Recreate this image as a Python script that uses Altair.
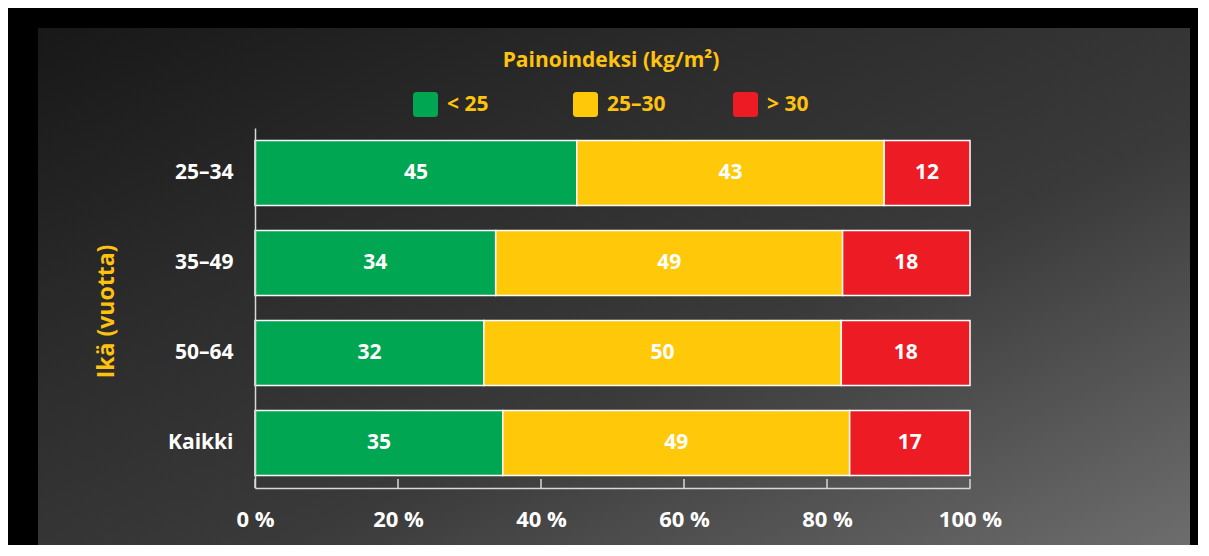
import altair as alt
import pandas as pd

ages = ["25–34", "35–49", "50–64", "Kaikki"]
categories = ["< 25", "25–30", "> 30"]
under25 = [45, 34, 32, 35]
between = [43, 49, 50, 49]
over30 = [12, 18, 18, 17]
colors = ["#00A651", "#FFC90A", "#ED1C24"]
xticks = [0, 0.2, 0.4, 0.6, 0.8, 1.0]

YELLOW = "#FFC20E"
FONT = "Open Sans"

rows = []
for i, a in enumerate(ages):
    for j, (c, vals) in enumerate(zip(categories, [under25, between, over30])):
        rows.append({"age": a, "cat": c, "order": j, "value": vals[i]})
df = pd.DataFrame(rows)

xscale = alt.Scale(domain=[0, 1], nice=False, zero=True)
yscale = alt.Scale(paddingInner=0.2778, paddingOuter=0.1389)

yaxis = alt.Axis(
    title="Ikä (vuotta)", titleColor=YELLOW, titleFont=FONT, titleFontWeight="bold",
    titleFontSize=23, titleAngle=270, titleX=-149, titleY=183, titleAlign="center",
    titleBaseline="middle",
    labelColor="white", labelFont=FONT, labelFontSize=21, labelFontWeight="bold",
    labelPadding=22, ticks=False, domainColor="#d8d8d8", domainWidth=1.5, grid=False,
    zindex=1)
xaxis = alt.Axis(
    title=None, values=xticks, labelExpr="format(datum.value*100, 'd') + ' %'",
    labelColor="white", labelFont=FONT, labelFontSize=22, labelFontWeight="bold",
    labelPadding=21, ticks=False, domainColor="#d8d8d8", domainWidth=1.5, grid=False,
    labelFlush=False, zindex=1)

base = alt.Chart(df).transform_stack(
    stack="value", groupby=["age"], as_=["x0", "x1"], offset="normalize",
    sort=[alt.SortField("order", order="ascending")]
).transform_calculate(xm="(datum.x0 + datum.x1) / 2")

rounded = "M -0.72,-1 L 0.72,-1 Q 1,-1 1,-0.72 L 1,0.72 Q 1,1 0.72,1 L -0.72,1 Q -1,1 -1,0.72 L -1,-0.72 Q -1,-1 -0.72,-1 Z"

bars = base.mark_bar(stroke="white", strokeWidth=1.5, cornerRadius=0).encode(
    y=alt.Y("age:N", sort=ages, scale=yscale, axis=yaxis),
    x=alt.X("x0:Q", scale=xscale, axis=xaxis),
    x2="x1:Q",
    color=alt.Color("cat:N", scale=alt.Scale(domain=categories, range=colors), legend=alt.Legend(
        title="Painoindeksi (kg/m²)", orient="none", legendX=158, legendY=-78,
        direction="horizontal", columns=3, gridAlign="all",
        symbolType=rounded, symbolSize=625, symbolStrokeWidth=0, symbolOpacity=1,
        labelColor=YELLOW, labelFont=FONT, labelFontSize=21, labelFontWeight="bold",
        labelOffset=9, columnPadding=67, labelLimit=200,
        titleColor=YELLOW, titleFont=FONT, titleFontSize=21, titleFontWeight="bold",
        titleAnchor="middle", titlePadding=21, titleLimit=500, padding=0)),
)

labels = base.mark_text(font=FONT, fontWeight="bold", fontSize=21, color="white").encode(
    y=alt.Y("age:N", sort=ages, scale=yscale, axis=yaxis),
    x=alt.X("xm:Q", scale=xscale, axis=xaxis),
    text=alt.Text("value:Q"),
)

tickdf = pd.DataFrame({"t": xticks})
ticks = alt.Chart(tickdf).mark_rule(color="#d8d8d8", strokeWidth=1.5).encode(
    x=alt.X("t:Q", scale=xscale, axis=xaxis),
    y=alt.value(351), y2=alt.value(360),
)

bg = alt.Chart(alt.Data(values=[{"a": 1}])).mark_rect(
    fill=alt.LinearGradient(
        gradient="linear", x1=0, y1=0, x2=1, y2=1,
        stops=[
            alt.GradientStop(color="#181818", offset=0),
            alt.GradientStop(color="#2b2b2b", offset=0.3),
            alt.GradientStop(color="#3a3a3a", offset=0.6),
            alt.GradientStop(color="#6e6e6e", offset=1),
        ],
    )
).encode(x=alt.value(-217), x2=alt.value(935), y=alt.value(-100), y2=alt.value(424))

chart = alt.layer(bg, bars, ticks, labels).properties(
    width=715, height=360,
    padding={"left": 247, "top": 120, "right": 228, "bottom": 57},
    autosize=alt.AutoSizeParams(type="none"),
).configure(background="#000000").configure_view(stroke=None)

chart.save("out.html", embed_options={"renderer": "svg", "actions": False})
